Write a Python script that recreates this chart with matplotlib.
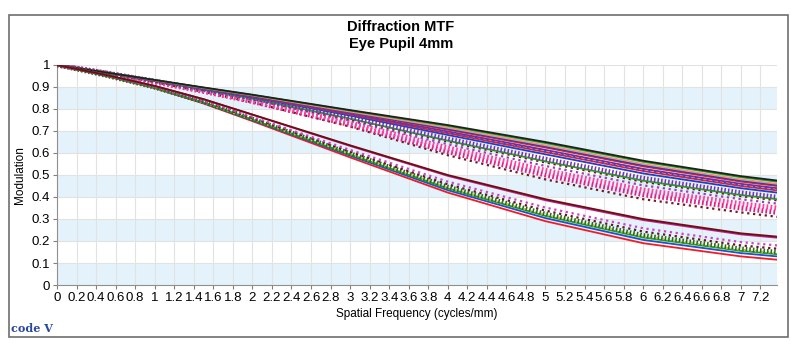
import matplotlib.pyplot as plt
from matplotlib.patches import Rectangle

# Sample frequencies (cycles/mm)
freq = [0, 0.5, 1, 1.5, 2, 3, 4, 5, 6, 7, 7.37]

# Upper bundle (top to bottom at right edge)
black_top = [1, .966, .932, .898, .865, .795, .727, .650, .565, .495, .475]
green_1 = [1, .966, .932, .897, .864, .793, .723, .645, .560, .490, .470]
salmon_1 = [1, .966, .931, .896, .862, .788, .715, .635, .550, .480, .460]
blue_1 = [1, .966, .931, .896, .861, .786, .710, .630, .544, .475, .455]
red_1 = [1, .966, .930, .895, .860, .784, .706, .625, .539, .470, .450]
purple_1 = [1, .966, .930, .894, .858, .779, .698, .614, .528, .460, .440]
blue_dot = [1, .966, .930, .893, .857, .777, .694, .609, .523, .455, .435]
red_2 = [1, .965, .929, .893, .856, .775, .690, .604, .518, .450, .430]
blue_2 = [1, .965, .929, .891, .853, .770, .682, .594, .507, .440, .420]
purple_hatch = [1, .965, .928, .889, .849, .761, .665, .573, .486, .420, .400]
green_2 = [1, .964, .927, .888, .847, .756, .656, .562, .474, .409, .390]
darkred_dot = [1, .964, .926, .887, .846, .754, .652, .557, .469, .404, .385]
purple_dot = [1, .964, .926, .885, .843, .747, .640, .541, .453, .390, .370]
pink_hatch = [1, .963, .924, .883, .838, .738, .623, .521, .432, .370, .350]
magenta_hatch = [1, .963, .923, .880, .834, .729, .606, .500, .411, .350, .330]
brown_dot = [1, .962, .922, .878, .830, .720, .590, .480, .390, .330, .310]

# Lower bundle
brown_solid = [1, .955, .905, .845, .775, .635, .500, .390, .300, .235, .220]
magenta_solid = [1, .955, .905, .844, .774, .632, .496, .385, .295, .230, .215]
magenta_dot = [1, .953, .901, .837, .764, .614, .470, .352, .258, .195, .180]
dark_dot = [1, .952, .900, .835, .759, .606, .458, .338, .243, .180, .165]
green_hatch = [1, .952, .898, .832, .755, .598, .446, .323, .226, .165, .150]
yellow_dot = [1, .951, .898, .831, .754, .596, .443, .319, .222, .160, .145]
green_3 = [1, .951, .897, .830, .752, .593, .439, .314, .216, .155, .140]
blue_3 = [1, .951, .896, .828, .749, .588, .431, .304, .205, .145, .130]
red_bottom = [1, .950, .895, .825, .745, .580, .420, .290, .190, .130, .115]

x_ticks = [i * 0.2 for i in range(37)]
x_labels = ['0', '0.2', '0.4', '0.6', '0.8', '1', '1.2', '1.4', '1.6', '1.8', '2',
            '2.2', '2.4', '2.6', '2.8', '3', '3.2', '3.4', '3.6', '3.8', '4',
            '4.2', '4.4', '4.6', '4.8', '5', '5.2', '5.4', '5.6', '5.8', '6',
            '6.2', '6.4', '6.6', '6.8', '7', '7.2']
y_ticks = [0, 0.1, 0.2, 0.3, 0.4, 0.5, 0.6, 0.7, 0.8, 0.9, 1]
y_labels = ['0', '0.1', '0.2', '0.3', '0.4', '0.5', '0.6', '0.7', '0.8', '0.9', '1']

plt.rcParams['font.family'] = ['Liberation Sans', 'DejaVu Sans']

hatch = (0, (0.35, 0.45))
curves = [
    (brown_dot, '#6b1f1f', ':', 1.6),
    (magenta_hatch, '#e0208a', hatch, 3.6),
    (pink_hatch, '#ff40a0', hatch, 3.6),
    (purple_dot, '#9040c0', ':', 1.6),
    (darkred_dot, '#7a1010', ':', 1.6),
    (green_2, '#22a022', '-', 1.3),
    (purple_hatch, '#7a30b0', hatch, 3.2),
    (blue_2, '#2040c0', '-', 1.3),
    (red_2, '#e02030', '-', 1.3),
    (blue_dot, '#3050d0', ':', 1.6),
    (purple_1, '#7030a0', '-', 1.3),
    (red_1, '#e82028', '-', 1.3),
    (blue_1, '#2040c0', '-', 1.3),
    (salmon_1, '#f09080', '-', 1.3),
    (green_1, '#20a020', '-', 1.3),
    (black_top, '#202020', '-', 1.3),
    (red_bottom, '#f01c24', '-', 1.3),
    (blue_3, '#2050d0', '-', 1.3),
    (green_3, '#22a022', '-', 1.3),
    (yellow_dot, '#d0c040', ':', 1.6),
    (green_hatch, '#2a6a20', hatch, 3.2),
    (dark_dot, '#5a1a1a', ':', 1.6),
    (magenta_dot, '#d040d0', ':', 1.6),
    (magenta_solid, '#c02090', '-', 1.3),
    (brown_solid, '#6a1010', '-', 1.3),
]

fig = plt.figure(figsize=(8.02, 3.54), dpi=100)
fig.patches.append(Rectangle((9 / 802, 1 - 337 / 354), 779 / 802, 322 / 354,
                             transform=fig.transFigure, fill=False,
                             edgecolor='#6e6e6e', linewidth=1.2))
ax = fig.add_axes([57 / 802, 1 - 285 / 354, 720 / 802, 220 / 354])

# alternating light blue bands
for lo in [0, 0.2, 0.4, 0.6, 0.8]:
    ax.axhspan(lo, lo + 0.1, color='#e4f2fb', zorder=0, linewidth=0)
ax.grid(True, color='#e2e2e2', linewidth=0.8, zorder=1)
ax.set_axisbelow(True)

for ys, col, ls, lw in curves:
    ax.plot(freq, ys, color=col, linestyle=ls, linewidth=lw,
            dash_capstyle='butt', zorder=3)

ax.set_xlim(0, 7.37)
ax.set_ylim(0, 1)
ax.set_xticks(x_ticks)
ax.set_xticklabels(x_labels, fontsize=9.5)
ax.set_yticks(y_ticks)
ax.set_yticklabels(y_labels, fontsize=9.5)
ax.tick_params(length=3, width=0.8, color='#808080', pad=2)
for s in ['top', 'right']:
    ax.spines[s].set_visible(False)
for s in ['left', 'bottom']:
    ax.spines[s].set_color('#909090')

ax.set_xlabel('Spatial Frequency (cycles/mm)', fontsize=8.5, labelpad=3)
ax.set_ylabel('Modulation', fontsize=8.5, labelpad=4)

fig.text(0.5, 1 - 27 / 354, 'Diffraction MTF', ha='center', va='center',
         fontsize=10.5, fontweight='bold')
fig.text(0.5, 1 - 44 / 354, 'Eye Pupil 4mm', ha='center', va='center',
         fontsize=10.5, fontweight='bold')
fig.text(11 / 802, 1 - 328 / 354, 'code V', ha='left', va='center',
         fontsize=8, fontweight='bold', color='#2848a0', family='DejaVu Serif')

fig.savefig('out.png', dpi=100)
